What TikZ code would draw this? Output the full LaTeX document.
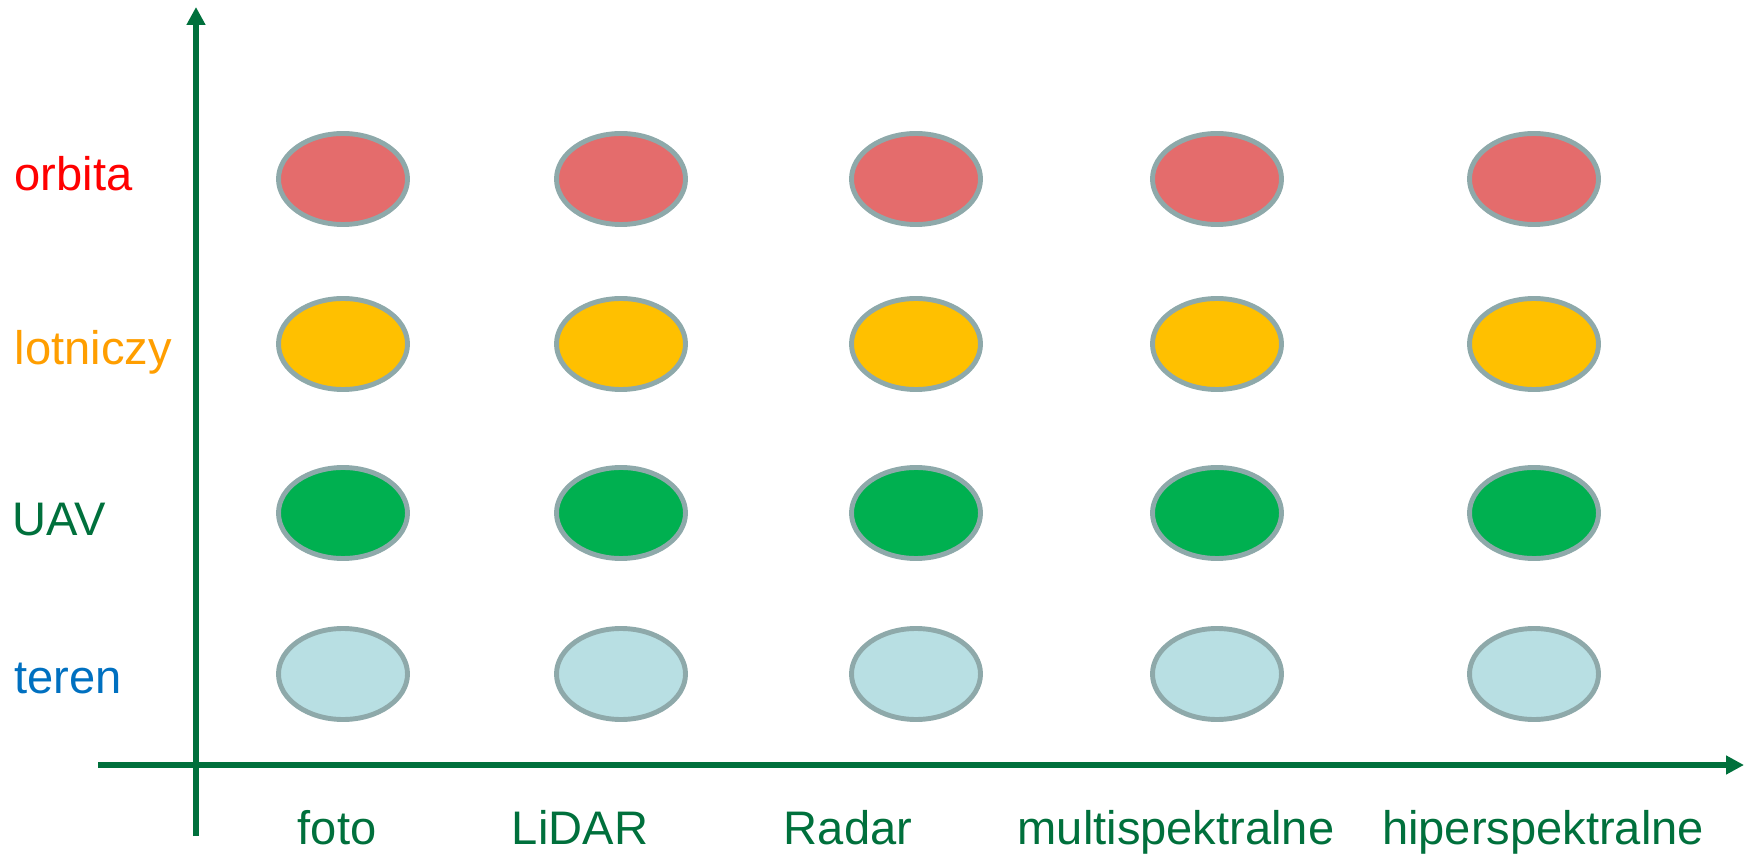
\documentclass[tikz,border=0pt]{standalone}
\usepackage{fontspec}
\setmainfont{Liberation Sans}
\usetikzlibrary{arrows.meta,shapes.geometric}
\definecolor{axisgreen}{HTML}{00703C}
\definecolor{rim}{HTML}{8EA9AA}
\definecolor{fillred}{HTML}{E46C6C}
\definecolor{fillyellow}{HTML}{FFC000}
\definecolor{fillgreen}{HTML}{00B050}
\definecolor{fillblue}{HTML}{B8DFE3}
\definecolor{labred}{HTML}{FF0000}
\definecolor{laborange}{HTML}{FF9E00}
\definecolor{labblue}{HTML}{0070C0}
\begin{document}
\begin{tikzpicture}[
    every node/.style={font=\fontsize{13.4}{16}\selectfont},
    axis/.style={draw=axisgreen, line width=1.7pt,
      -{Triangle[length=1.8mm,width=1.8mm]}},
    dot/.style={ellipse, draw=rim, line width=1.4pt, inner sep=0pt,
      minimum width=1.29cm, minimum height=0.91cm}]
  \useasboundingbox (0,0) rectangle (17.52,8.54);
  % axes
  \coordinate (Xstart) at (0.98,0.89);
  \coordinate (Xend)   at (17.44,0.89);
  \coordinate (Ystart) at (1.96,0.18);
  \coordinate (Yend)   at (1.96,8.47);
  \draw[axis] (Xstart) -- (Xend);
  \draw[axis] (Ystart) -- (Yend);
  % orbita
  \begin{scope}[every node/.append style={dot, fill=fillred}]
    \node (O1) at (3.43,6.75) {};
    \node (O2) at (6.21,6.75) {};
    \node (O3) at (9.16,6.75) {};
    \node (O4) at (12.17,6.75) {};
    \node (O5) at (15.34,6.75) {};
  \end{scope}
  % lotniczy
  \begin{scope}[every node/.append style={dot, fill=fillyellow}]
    \node (L1) at (3.43,5.10) {};
    \node (L2) at (6.21,5.10) {};
    \node (L3) at (9.16,5.10) {};
    \node (L4) at (12.17,5.10) {};
    \node (L5) at (15.34,5.10) {};
  \end{scope}
  % UAV
  \begin{scope}[every node/.append style={dot, fill=fillgreen}]
    \node (U1) at (3.43,3.41) {};
    \node (U2) at (6.21,3.41) {};
    \node (U3) at (9.16,3.41) {};
    \node (U4) at (12.17,3.41) {};
    \node (U5) at (15.34,3.41) {};
  \end{scope}
  % teren
  \begin{scope}[every node/.append style={dot, fill=fillblue}]
    \node (T1) at (3.43,1.80) {};
    \node (T2) at (6.21,1.80) {};
    \node (T3) at (9.16,1.80) {};
    \node (T4) at (12.17,1.80) {};
    \node (T5) at (15.34,1.80) {};
  \end{scope}
  % row labels
  \begin{scope}[every node/.append style={anchor=base west, inner sep=0pt}]
    \node[text=labred]    (orbita)   at (0.14,6.63) {orbita};
    \node[text=laborange] (lotniczy) at (0.14,4.89) {lotniczy};
    \node[text=axisgreen] (UAV)      at (0.12,3.18) {UAV};
    \node[text=labblue]   (teren)    at (0.14,1.61) {teren};
  \end{scope}
  % column labels
  \begin{scope}[every node/.append style={anchor=base, inner sep=0pt, text=axisgreen}]
    \node (foto)  at (3.37,0.10) {foto};
    \node (lidar) at (5.80,0.10) {LiDAR};
    \node (radar) at (8.48,0.10) {Radar};
    \node (multi) at (11.76,0.10) {multispektralne};
    \node (hiper) at (15.43,0.10) {hiperspektralne};
  \end{scope}
\end{tikzpicture}
\end{document}
